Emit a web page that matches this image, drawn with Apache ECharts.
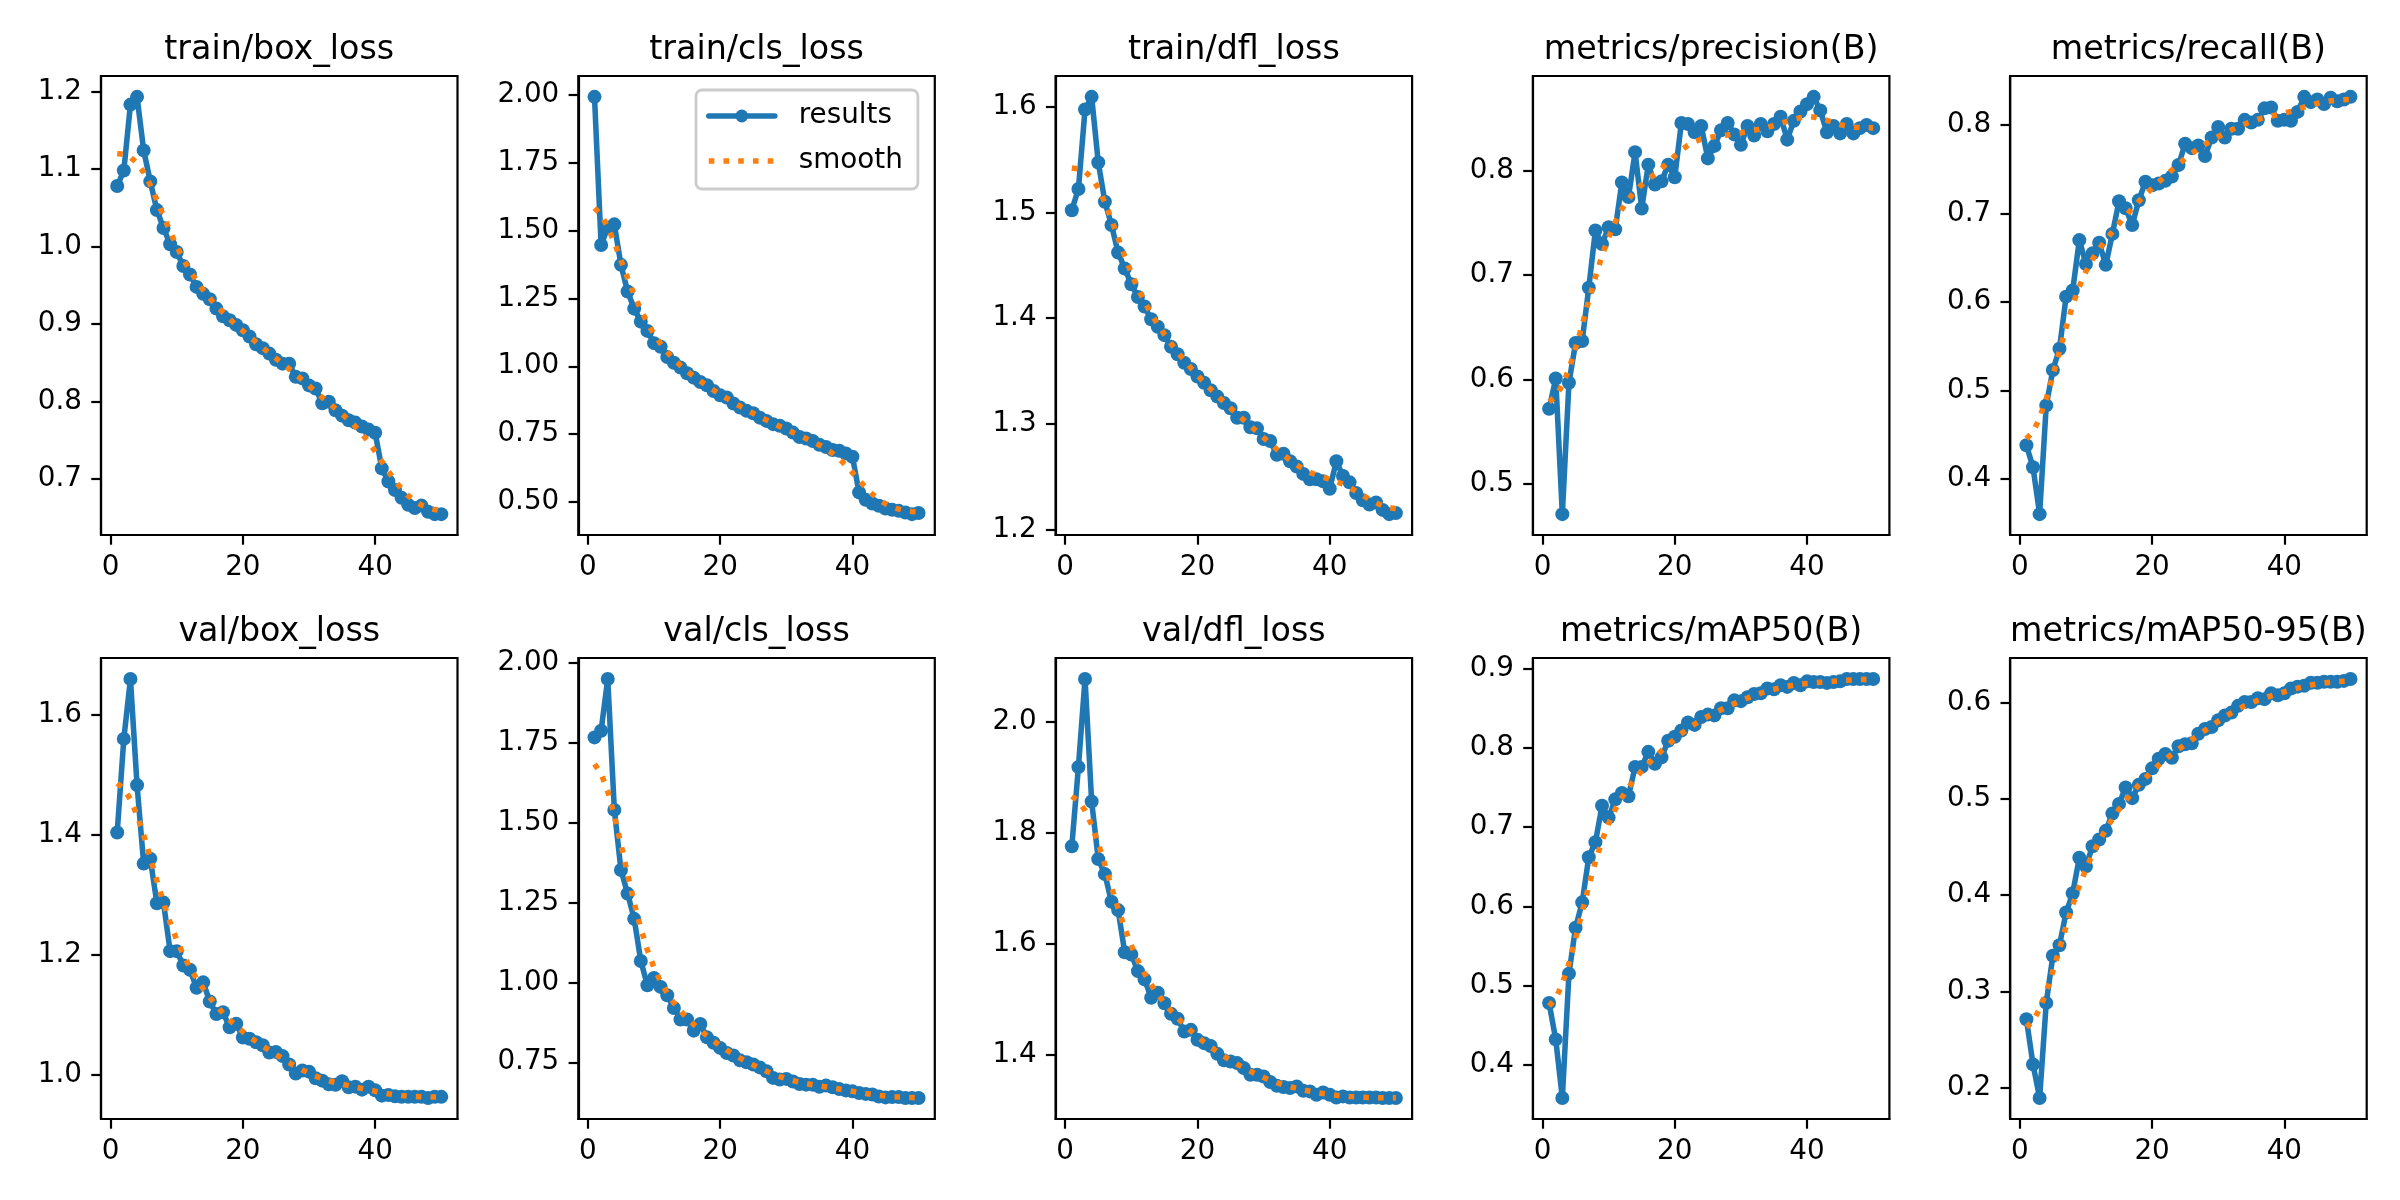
<!DOCTYPE html>
<html>
<head>
<meta charset="utf-8">
<script src="https://cdn.jsdelivr.net/npm/echarts@6/dist/echarts.min.js"></script>
<style>
html,body{margin:0;padding:0;background:#ffffff;}
#chart{width:2400px;height:1200px;}
</style>
</head>
<body>
<div id="chart"></div>
<script>
// ---------------- DATA ----------------
const epochs = [1,2,3,4,5,6,7,8,9,10,11,12,13,14,15,16,17,18,19,20,21,22,23,24,25,26,27,28,29,30,31,32,33,34,35,36,37,38,39,40,41,42,43,44,45,46,47,48,49,50];

const panelTitles = ['train/box_loss','train/cls_loss','train/dfl_loss','metrics/precision(B)','metrics/recall(B)',
                     'val/box_loss','val/cls_loss','val/dfl_loss','metrics/mAP50(B)','metrics/mAP50-95(B)'];

const trainBoxLoss = [1.078,1.098,1.183,1.193,1.124,1.084,1.047,1.024,1.003,0.993,
  0.975,0.964,0.948,0.939,0.932,0.920,0.910,0.905,0.899,0.892,
  0.884,0.874,0.869,0.862,0.854,0.849,0.849,0.832,0.830,0.821,
  0.817,0.798,0.800,0.789,0.782,0.776,0.773,0.768,0.764,0.760,
  0.714,0.697,0.686,0.676,0.667,0.663,0.666,0.658,0.655,0.655];

const trainClsLoss = [1.991,1.446,1.510,1.522,1.373,1.275,1.212,1.164,1.130,1.085,
  1.072,1.034,1.013,0.995,0.974,0.958,0.942,0.930,0.909,0.893,
  0.885,0.863,0.848,0.836,0.827,0.811,0.799,0.787,0.781,0.771,
  0.756,0.740,0.734,0.725,0.711,0.703,0.692,0.689,0.679,0.667,
  0.536,0.509,0.495,0.487,0.477,0.472,0.468,0.462,0.456,0.460];

const trainDflLoss = [1.502,1.522,1.597,1.609,1.547,1.510,1.488,1.462,1.447,1.432,
  1.420,1.411,1.399,1.392,1.384,1.373,1.366,1.358,1.352,1.345,
  1.339,1.332,1.326,1.320,1.315,1.306,1.306,1.297,1.296,1.286,
  1.284,1.271,1.272,1.265,1.260,1.253,1.248,1.248,1.246,1.239,
  1.265,1.251,1.245,1.235,1.228,1.224,1.226,1.219,1.215,1.216];

const precisionB = [0.572,0.601,0.471,0.597,0.635,0.637,0.688,0.743,0.730,0.746,
  0.744,0.789,0.775,0.818,0.764,0.806,0.787,0.790,0.806,0.794,
  0.846,0.845,0.837,0.843,0.812,0.824,0.839,0.846,0.835,0.825,
  0.843,0.834,0.845,0.838,0.845,0.852,0.830,0.848,0.857,0.864,
  0.871,0.858,0.837,0.843,0.836,0.845,0.836,0.841,0.844,0.841];

const recallB = [0.438,0.413,0.360,0.483,0.523,0.547,0.606,0.613,0.670,0.643,
  0.655,0.667,0.642,0.677,0.714,0.706,0.687,0.715,0.736,0.732,
  0.734,0.737,0.742,0.755,0.779,0.774,0.777,0.765,0.786,0.798,
  0.786,0.796,0.796,0.806,0.803,0.806,0.819,0.820,0.805,0.806,
  0.805,0.815,0.832,0.826,0.829,0.824,0.831,0.827,0.829,0.832];

const valBoxLoss = [1.404,1.560,1.660,1.483,1.352,1.360,1.286,1.287,1.206,1.206,
  1.182,1.175,1.145,1.154,1.122,1.101,1.104,1.079,1.085,1.062,
  1.060,1.054,1.049,1.037,1.038,1.031,1.017,1.002,1.007,1.005,
  0.994,0.990,0.984,0.983,0.989,0.979,0.980,0.975,0.980,0.974,
  0.965,0.966,0.964,0.963,0.963,0.963,0.963,0.961,0.963,0.963];

const valClsLoss = [1.767,1.788,1.950,1.540,1.352,1.278,1.199,1.067,0.991,1.014,
  0.986,0.960,0.920,0.884,0.884,0.849,0.870,0.828,0.811,0.795,
  0.779,0.771,0.756,0.750,0.743,0.734,0.722,0.701,0.696,0.698,
  0.690,0.682,0.680,0.680,0.673,0.677,0.672,0.666,0.662,0.659,
  0.654,0.651,0.649,0.643,0.640,0.641,0.641,0.638,0.638,0.638];

const valDflLoss = [1.776,1.919,2.078,1.857,1.753,1.726,1.676,1.661,1.585,1.581,
  1.551,1.536,1.503,1.512,1.493,1.474,1.465,1.442,1.445,1.427,
  1.421,1.416,1.402,1.390,1.388,1.385,1.376,1.364,1.364,1.361,
  1.351,1.344,1.342,1.340,1.343,1.335,1.334,1.328,1.332,1.328,
  1.323,1.325,1.323,1.323,1.323,1.323,1.323,1.322,1.322,1.322];

const mAP50B = [0.478,0.432,0.358,0.515,0.573,0.605,0.662,0.681,0.727,0.712,
  0.735,0.743,0.739,0.776,0.776,0.795,0.780,0.788,0.809,0.814,
  0.822,0.832,0.829,0.839,0.842,0.841,0.850,0.850,0.860,0.859,
  0.864,0.868,0.869,0.875,0.874,0.879,0.877,0.882,0.879,0.884,
  0.883,0.883,0.882,0.883,0.884,0.887,0.887,0.887,0.887,0.887];

const mAP5095B = [0.271,0.224,0.189,0.288,0.337,0.348,0.382,0.402,0.439,0.430,
  0.451,0.458,0.467,0.485,0.495,0.512,0.501,0.515,0.521,0.532,
  0.542,0.547,0.543,0.555,0.557,0.558,0.568,0.573,0.575,0.582,
  0.587,0.590,0.597,0.601,0.601,0.605,0.604,0.610,0.608,0.610,
  0.615,0.617,0.618,0.621,0.621,0.622,0.622,0.622,0.623,0.625];

// tick labels
const xTickLabels = ['0','20','40'];
const yTicksTrainBox = ['0.7','0.8','0.9','1.0','1.1','1.2'];
const yTicksTrainCls = ['0.50','0.75','1.00','1.25','1.50','1.75','2.00'];
const yTicksTrainDfl = ['1.2','1.3','1.4','1.5','1.6'];
const yTicksPrecision = ['0.5','0.6','0.7','0.8'];
const yTicksRecall = ['0.4','0.5','0.6','0.7','0.8'];
const yTicksValBox = ['1.0','1.2','1.4','1.6'];
const yTicksValCls = ['0.75','1.00','1.25','1.50','1.75','2.00'];
const yTicksValDfl = ['1.4','1.6','1.8','2.0'];
const yTicksMAP50 = ['0.4','0.5','0.6','0.7','0.8','0.9'];
const yTicksMAP5095 = ['0.2','0.3','0.4','0.5','0.6'];

const legendNames = ['results','smooth'];

// ---------------- BUILD ----------------
const panelValues = [trainBoxLoss,trainClsLoss,trainDflLoss,precisionB,recallB,valBoxLoss,valClsLoss,valDflLoss,mAP50B,mAP5095B];
const panelYTicks = [yTicksTrainBox,yTicksTrainCls,yTicksTrainDfl,yTicksPrecision,yTicksRecall,yTicksValBox,yTicksValCls,yTicksValDfl,yTicksMAP50,yTicksMAP5095];

// 'smooth' curve = Gaussian filter (sigma 3, reflect mode) of the results values, like the original plot
function gaussianSmooth(y, sigma) {
  const r = Math.floor(4 * sigma + 0.5);
  const w = [];
  let s = 0;
  for (let k = -r; k <= r; k++) { const v = Math.exp(-0.5 * k * k / (sigma * sigma)); w.push(v); s += v; }
  const n = y.length;
  const idx = j => { while (j < 0 || j >= n) { if (j < 0) j = -j - 1; if (j >= n) j = 2 * n - j - 1; } return j; };
  return y.map((_, i) => { let acc = 0; for (let k = -r; k <= r; k++) acc += w[k + r] * y[idx(i + k)]; return acc / s; });
}

const FONT = 'DejaVu Sans';
const BLUE = '#1f77b4', ORANGE = '#ff7f0e';
const LW = 5.56;
const xMin = epochs[0] - (epochs[epochs.length-1] - epochs[0]) * 0.05;
const xMax = epochs[epochs.length-1] + (epochs[epochs.length-1] - epochs[0]) * 0.05;
const xTickVals = xTickLabels.map(Number);

const grids = [], xAxes = [], yAxes = [], series = [], titles = [];
panelValues.forEach((vals, i) => {
  const r = Math.floor(i / 5), c = i % 5;
  const left = 101 + 477.3 * c;
  const width = 356.5;
  const top = r === 0 ? 76 : 658;
  const height = r === 0 ? 459 : 461;
  const smooth = gaussianSmooth(vals, 3);
  const all = vals.concat(smooth);
  const lo = Math.min(...all), hi = Math.max(...all);
  const pad = (hi - lo) * 0.05;
  const ticks = panelYTicks[i];
  const tickVals = ticks.map(Number);

  grids.push({left, top, width, height, show: true, borderColor: '#000', borderWidth: 2.2,
              backgroundColor: '#fff', containLabel: false, outerBoundsMode: 'none'});
  xAxes.push({
    gridIndex: i, type: 'value', min: xMin, max: xMax, position: 'bottom',
    axisLine: {show: true, onZero: false, lineStyle: {color: '#000', width: 2.2}},
    axisTick: {show: true, inside: false, length: 9.7, lineStyle: {color: '#000', width: 2.2}, customValues: xTickVals},
    axisLabel: {show: true, customValues: xTickVals, margin: 19, fontSize: 27.8, color: '#000', fontFamily: FONT,
                formatter: v => xTickLabels[xTickVals.indexOf(v)] ?? String(v)},
    splitLine: {show: false}
  });
  yAxes.push({
    gridIndex: i, type: 'value', min: lo - pad, max: hi + pad, position: 'left',
    axisLine: {show: true, onZero: false, lineStyle: {color: '#000', width: 2.2}},
    axisTick: {show: true, inside: false, length: 9.7, lineStyle: {color: '#000', width: 2.2}, customValues: tickVals},
    axisLabel: {show: true, customValues: tickVals, margin: 19, fontSize: 27.8, color: '#000', fontFamily: FONT,
                formatter: v => { const k = tickVals.findIndex(t => Math.abs(t - v) < 1e-9); return k >= 0 ? ticks[k] : String(v); }},
    splitLine: {show: false}
  });
  titles.push({
    text: panelTitles[i], left: left + width / 2, top: top - 42, textAlign: 'center', padding: 0,
    textStyle: {fontSize: 33.3, fontWeight: 'normal', color: '#000', fontFamily: FONT}
  });
  series.push({
    name: legendNames[0], type: 'line', xAxisIndex: i, yAxisIndex: i,
    data: epochs.map((e, k) => [e, vals[k]]),
    symbol: 'circle', symbolSize: 14, showSymbol: true,
    itemStyle: {color: BLUE, borderWidth: 0},
    lineStyle: {color: BLUE, width: LW, join: 'round', cap: 'round'},
    emphasis: {disabled: true}, silent: true, z: 2
  });
  series.push({
    name: legendNames[1], type: 'line', xAxisIndex: i, yAxisIndex: i,
    data: epochs.map((e, k) => [e, smooth[k]]),
    symbol: 'none', showSymbol: false,
    itemStyle: {color: ORANGE},
    lineStyle: {color: ORANGE, width: LW, type: [5.56, 9.17], cap: 'butt'},
    emphasis: {disabled: true}, silent: true, z: 3
  });
});

const option = {
  animation: false,
  backgroundColor: '#ffffff',
  title: titles,
  grid: grids,
  xAxis: xAxes,
  yAxis: yAxes,
  legend: {
    show: true, orient: 'vertical', left: 696, top: 90,
    padding: [10, 15, 12, 10], itemWidth: 66, itemHeight: 16, itemGap: 13,
    backgroundColor: 'rgba(255,255,255,0.8)', borderColor: '#cccccc', borderWidth: 2.8, borderRadius: 6,
    selectedMode: false,
    textStyle: {fontSize: 27.8, color: '#000', fontFamily: FONT, lineHeight: 32, padding: [0, 0, 0, 19]},
    lineStyle: {width: LW},
    data: [{name: legendNames[0]}, {name: legendNames[1], itemStyle: {opacity: 0}}]
  },
  series: series
};

const chart = echarts.init(document.getElementById('chart'), null, {renderer: 'canvas', width: 2400, height: 1200});
chart.setOption(option);
</script>
</body>
</html>
